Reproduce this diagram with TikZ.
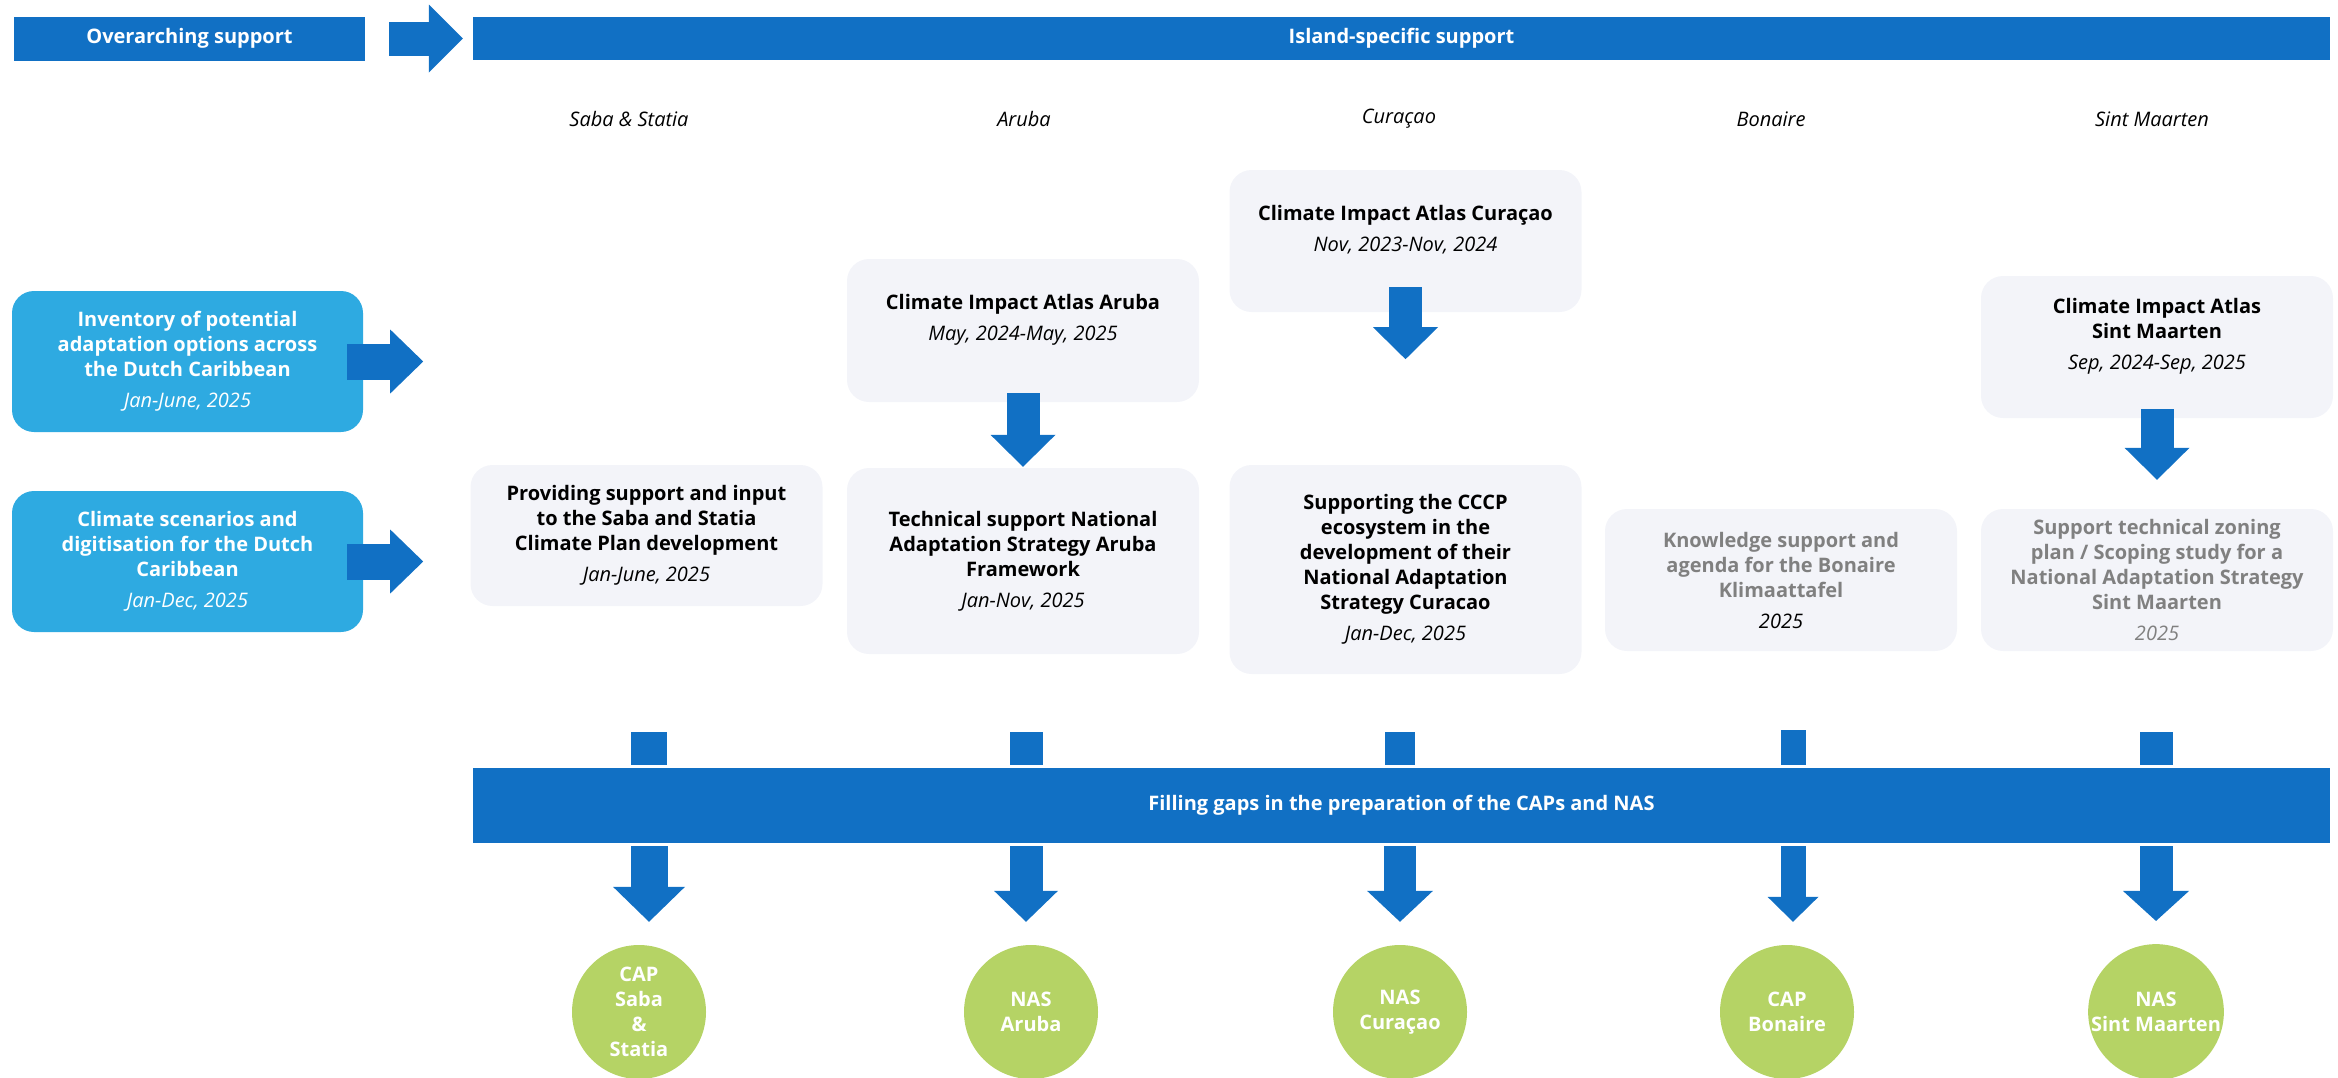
\documentclass[tikz,border=0pt]{standalone}
\usepackage{fontspec}
\setmainfont{Open Sans}
\usepackage{tikz}
\usetikzlibrary{
    positioning,
    arrows.meta,
    calc
}
\definecolor{barBlue}{RGB}{17, 112, 196}
\definecolor{skyBlue}{RGB}{46, 170, 225}
\definecolor{cardGray}{RGB}{243, 244, 249}
\definecolor{leafGreen}{RGB}{181, 211, 101}
\definecolor{mutedGray}{RGB}{128, 128, 128}
\newcommand{\boxFont}{\fontsize{20}{25}\selectfont}
\newcommand{\when}[1]{\\[6pt]\textit{\mdseries #1}}

\begin{document}
\begin{tikzpicture}[x=1pt, y=-1pt,
    bar/.style={rectangle, fill=barBlue, text=white, font=\boxFont\bfseries, inner sep=0pt},
    card/.style={rectangle, rounded corners=22pt, fill=cardGray, minimum width=352pt, align=center, font=\boxFont\bfseries, inner sep=0pt},
    atlas/.style={card, minimum height=142pt, text depth=26pt},
    sidecard/.style={card, fill=skyBlue, text=white, minimum width=351pt, minimum height=141pt},
    goal/.style={circle, fill=leafGreen, text=white, minimum size=134pt, align=center, font=\boxFont\bfseries, inner sep=0pt},
    island/.style={font=\boxFont\itshape},
    blockarrow/.style n args={3}{barBlue, line width=#1, -{Triangle[width=#2, length=#3, line width=0pt]}},
    downarrow/.style={blockarrow={33pt}{65pt}{32pt}},
    stub/.style={barBlue, line width=#1},
    stub/.default=33pt
]
        \useasboundingbox (0,0) rectangle (2338,1077);

        % top row
        \node[bar, minimum width=351pt, minimum height=44pt] (overarching) at (189.5, 38.5) {Overarching support};
        \node[bar, minimum width=1857pt, minimum height=43pt] (islandBar) at (1401.5, 38.5) {Island-specific support};
        \draw[blockarrow={34pt}{68pt}{34pt}] ([xshift=24pt]overarching.east) -- ([xshift=-10pt]islandBar.west);

        \node[island] (labSaba) at (629, 119) {Saba \& Statia};
        \node[island] (labAruba) at (1024, 119) {Aruba};
        \node[island] (labCuracao) at (1399, 119) {Curaçao};
        \node[island] (labBonaire) at (1771, 119) {Bonaire};
        \node[island] (labSint) at (2152, 119) {Sint Maarten};

        % overarching work packages
        \node[sidecard] (inventory) at (187.5, 361.5) {Inventory of potential\\adaptation options across\\the Dutch Caribbean\when{Jan-June, 2025}};
        \node[sidecard] (scenarios) at (187.5, 561.5) {Climate scenarios and\\digitisation for the Dutch\\Caribbean\when{Jan-Dec, 2025}};
        \draw[blockarrow={36pt}{64pt}{33pt}] ([xshift=-16pt]inventory.east) -- ([xshift=60pt]inventory.east);
        \draw[blockarrow={36pt}{64pt}{33pt}] ([xshift=-16pt]scenarios.east) -- ([xshift=60pt]scenarios.east);

        % island columns
        \node[card, minimum height=141pt] (sabaMain) at (646.5, 535.5) {Providing support and input\\to the Saba and Statia\\Climate Plan development\when{Jan-June, 2025}};

        \node[atlas, minimum height=143pt] (arubaAtlas) at (1023, 330.5) {Climate Impact Atlas Aruba\when{May, 2024-May, 2025}};
        \node[card, minimum height=186pt] (arubaMain) at (1023, 561) {Technical support National\\Adaptation Strategy Aruba\\Framework\when{Jan-Nov, 2025}};
        \draw[downarrow] ([yshift=9pt]arubaAtlas.south) -- ([yshift=1pt]arubaMain.north);

        \node[atlas] (curacaoAtlas) at (1405.5, 241) {Climate Impact Atlas Curaçao\when{Nov, 2023-Nov, 2024}};
        \node[card, minimum height=209pt] (curacaoMain) at (1405.5, 569.5) {Supporting the CCCP\\ecosystem in the\\development of their\\National Adaptation\\Strategy Curacao\when{Jan-Dec, 2025}};
        \draw[downarrow] ([yshift=25pt]curacaoAtlas.south) -- ([yshift=-47pt]curacaoAtlas.south);

        \node[card, minimum height=142pt, text=mutedGray] (bonaireMain) at (1781, 580) {Knowledge support and\\agenda for the Bonaire\\Klimaattafel\when{\textcolor{black}{2025}}};

        \node[atlas] (sintAtlas) at (2157, 347) {Climate Impact Atlas\\Sint Maarten\when{Sep, 2024-Sep, 2025}};
        \node[card, minimum height=142pt, text=mutedGray] (sintMain) at (2157, 580) {Support technical zoning\\plan / Scoping study for a\\National Adaptation Strategy\\Sint Maarten\when{2025}};
        \draw[downarrow] ([yshift=9pt]sintAtlas.south) -- ([yshift=29pt]sintMain.north);

        % gap filling bar
        \node[bar, minimum width=1857pt, minimum height=75pt] (gapsBar) at (1401.5, 805.5) {Filling gaps in the preparation of the CAPs and NAS};

        \coordinate (stubSaba) at (649, 732);
        \coordinate (stubAruba) at (1026, 732);
        \coordinate (stubCuracao) at (1400, 732);
        \coordinate (stubBonaire) at (1793, 730);
        \coordinate (stubSint) at (2156, 732);
        \draw[stub=36pt, shorten >=3pt] (stubSaba) -- (stubSaba |- gapsBar.north);
        \draw[stub=33pt, shorten >=3pt] (stubAruba) -- (stubAruba |- gapsBar.north);
        \draw[stub=30pt, shorten >=3pt] (stubCuracao) -- (stubCuracao |- gapsBar.north);
        \draw[stub=25pt, shorten >=3pt] (stubBonaire) -- (stubBonaire |- gapsBar.north);
        \draw[stub=33pt, shorten >=3pt] (stubSint) -- (stubSint |- gapsBar.north);

        % plans
        \node[goal] (capSaba) at (639, 1012) {CAP\\Saba\\\&\\Statia};
        \node[goal] (nasAruba) at (1031, 1012) {NAS\\Aruba};
        \node[goal] (nasCuracao) at (1400, 1012) {NAS\\Curaçao};
        \node[goal] (capBonaire) at (1787, 1012) {CAP\\Bonaire};
        \node[goal] (nasSint) at (2156, 1012) {NAS\\Sint Maarten};

        \draw[blockarrow={37pt}{72pt}{35pt}, shorten <=3pt, shorten >=23pt] (stubSaba |- gapsBar.south) -- (stubSaba |- capSaba.north);
        \draw[blockarrow={33pt}{64pt}{31pt}, shorten <=3pt, shorten >=23pt] (stubAruba |- gapsBar.south) -- (stubAruba |- nasAruba.north);
        \draw[blockarrow={32pt}{66pt}{31pt}, shorten <=3pt, shorten >=23pt] (stubCuracao |- gapsBar.south) -- (stubCuracao |- nasCuracao.north);
        \draw[blockarrow={25pt}{51pt}{25pt}, shorten <=3pt, shorten >=23pt] (stubBonaire |- gapsBar.south) -- (stubBonaire |- capBonaire.north);
        \draw[blockarrow={33pt}{66pt}{30pt}, shorten <=3pt, shorten >=23pt] (stubSint |- gapsBar.south) -- (stubSint |- nasSint.north);
\end{tikzpicture}
\end{document}
